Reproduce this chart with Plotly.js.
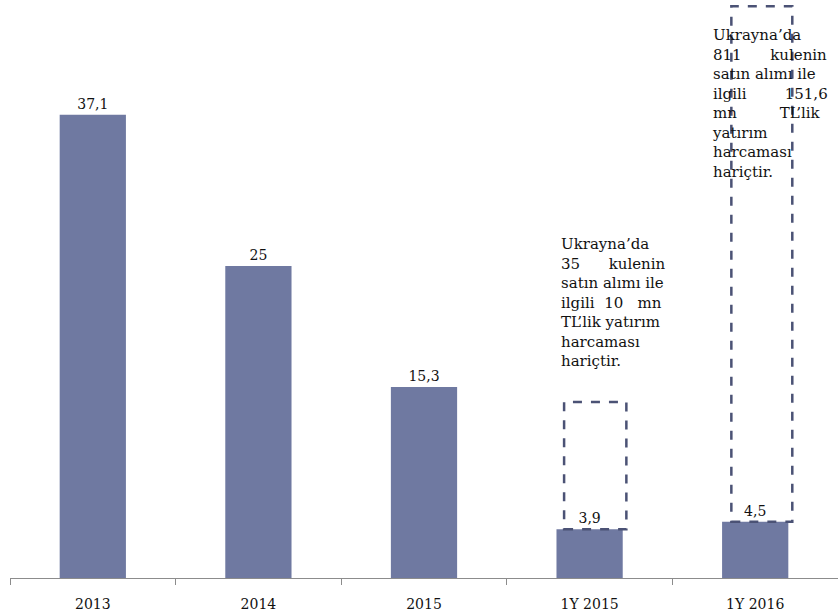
<!DOCTYPE html>
<html>
<head>
<meta charset="utf-8">
<script src="https://cdn.plot.ly/plotly-3.0.1.min.js"></script>
<style>html,body{margin:0;padding:0;background:#fff;}#chart{width:838px;height:616px;}</style>
</head>
<body>
<div id="chart"></div>
<script>
const categories = ["2013", "2014", "2015", "1Y 2015", "1Y 2016"];
const values = [37.1, 25, 15.3, 3.9, 4.5];
const labels = ["37,1", "25", "15,3", "3,9", "4,5"];
const note2015 = ["Ukrayna’da", "35\u00a0\u00a0\u00a0\u00a0\u00a0\u00a0kulenin", "satın alımı ile", "ilgili\u00a0\u00a010\u00a0\u00a0\u00a0mn", "TL’lik yatırım", "harcaması", "hariçtir."];
const note2016 = ["Ukrayna’da", "811\u00a0\u00a0\u00a0\u00a0\u00a0\u00a0kulenin", "satın alımı ile", "ilgili\u00a0\u00a0\u00a0\u00a0\u00a0\u00a0\u00a0\u00a0151,6", "mn\u00a0\u00a0\u00a0\u00a0\u00a0\u00a0\u00a0\u00a0\u00a0TL’lik", "yatırım", "harcaması", "hariçtir."];
const boxTops = [14.1, 45.8];

const font = "DejaVu Serif";
const barColor = "#6f79a1";
const dashColor = "#4b5275";

const trace = {
  type: "bar",
  x: categories,
  y: values,
  text: labels,
  textposition: "outside",
  textfont: {family: font, size: 14, color: "#111"},
  cliponaxis: false,
  marker: {color: barColor},
  width: 0.4,
  hoverinfo: "none"
};

const shapes = [
  {type: "rect", xref: "x", yref: "y", x0: 2.846, x1: 3.222, y0: values[3], y1: boxTops[0],
   line: {color: dashColor, width: 2.5, dash: "dash"}},
  {type: "rect", xref: "x", yref: "y", x0: 3.856, x1: 4.224, y0: values[4], y1: boxTops[1],
   line: {color: dashColor, width: 2.5, dash: "dash"}}
];

const annotations = [
  {xref: "x", yref: "y", x: 2.815, y: 27.64, xanchor: "left", yanchor: "top", align: "left",
   showarrow: false, text: note2015.join("<br>"), font: {family: font, size: 15, color: "#111"}},
  {xref: "x", yref: "y", x: 3.725, y: 44.4, xanchor: "left", yanchor: "top", align: "left",
   showarrow: false, text: note2016.join("<br>"), font: {family: font, size: 15, color: "#111"}}
];

const layout = {
  width: 838, height: 616,
  margin: {l: 10, r: 0, t: 0, b: 38},
  paper_bgcolor: "#fff", plot_bgcolor: "#fff",
  showlegend: false,
  xaxis: {
    type: "category",
    showline: true, linecolor: "#8c8c8c", linewidth: 1,
    ticks: "outside", tickson: "boundaries", ticklen: 6, tickcolor: "#8c8c8c",
    ticklabelstandoff: 13,
    tickfont: {family: font, size: 14, color: "#111"},
    showgrid: false, zeroline: false
  },
  yaxis: {range: [0, 46.3], visible: false, showgrid: false, zeroline: false},
  shapes: shapes,
  annotations: annotations
};

Plotly.newPlot("chart", [trace], layout, {displayModeBar: false, staticPlot: true});
</script>
</body>
</html>
